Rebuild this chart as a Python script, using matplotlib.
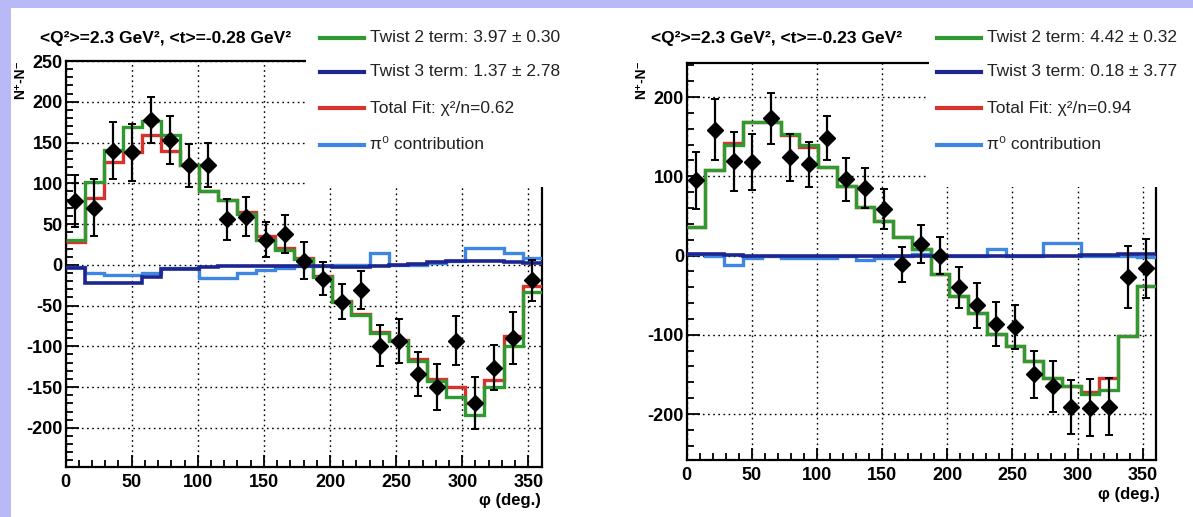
import numpy as np
import matplotlib
matplotlib.use("Agg")
import matplotlib.pyplot as plt
from matplotlib.patches import Rectangle
from matplotlib.lines import Line2D
from matplotlib.ticker import MultipleLocator, FixedLocator

plt.rcParams['font.family'] = ['Liberation Sans', 'DejaVu Sans']
plt.rcParams['axes.unicode_minus'] = False

# ---------------- data ----------------
n_bins = 25
phi_edges = np.linspace(0, 360, n_bins + 1)
phi_centers = 0.5 * (phi_edges[:-1] + phi_edges[1:])

# left panel  (<t> = -0.28 GeV^2)
data_L = [78, 70, 140, 138, 178, 153, 122, 123, 56, 59, 31, 38, 5, -17, -45,
          -31, -99, -93, -134, -150, -93, -170, -126, -90, -19]
err_L = [32, 35, 35, 35, 28, 29, 26, 27, 25, 24, 22, 23, 23, 20, 22, 23, 25,
         27, 27, 28, 30, 32, 28, 32, 25]
twist2_L = [30, 102, 141, 169, 177, 159, 122, 90, 80, 62, 30, 18, 7, -15, -45,
            -61, -84, -94, -118, -142, -162, -184, -150, -99, -33]
total_L = [28, 82, 126, 138, 159, 139, 122, 90, 80, 65, 35, 21, 8, -14, -44,
           -60, -82, -92, -116, -140, -150, -170, -141, -87, -26]
twist3_L = [-4, -22, -22, -22, -15, -5, -5, -3, -2, -2, -2, -1, -1, -2, -3,
            -3, -2, 0, 1, 3, 5, 5, 5, 4, 2]
pi0_L = [-3, -10, -12, -12, -10, -4, -4, -16, -16, -10, -6, -4, -2, -1, 0,
         0, 14, 0, 0, 2, 5, 21, 21, 14, 8]

# right panel (<t> = -0.23 GeV^2)
data_R = [95, 159, 119, 118, 173, 124, 115, 148, 96, 85, 59, -11, 15, 0, -40,
          -63, -86, -90, -150, -165, -191, -192, -191, -27, -16]
err_R = [36, 39, 37, 35, 32, 30, 28, 28, 27, 25, 25, 22, 24, 23, 26, 28, 28,
         28, 30, 32, 34, 36, 36, 39, 37]
twist2_R = [36, 108, 140, 168, 168, 154, 139, 112, 88, 61, 44, 23, 8, -23,
            -51, -72, -99, -114, -133, -154, -165, -175, -170, -101, -38]
total_R = [36, 108, 142, 168, 168, 152, 137, 112, 88, 61, 44, 23, 8, -23,
           -51, -72, -99, -114, -133, -154, -165, -172, -155, -101, -38]
twist3_R = [2, 2, 1, 0, 0, -1, -1, -1, -1, -1, 0, 0, 0, 0, 0, 0, 0, 0, 0, 0,
            0, 1, 1, 2, 2]
pi0_R = [2, 0, -12, -3, 0, -3, -3, -3, -1, -5, -3, 0, 2, 0, 0, 0, 8, 0, 0,
         16, 16, 0, 0, -1, -2]

titles = ["<Q²>=2.3 GeV², <t>=-0.28 GeV²", "<Q²>=2.3 GeV², <t>=-0.23 GeV²"]
legend_L = ["Twist 2 term: 3.97 ± 0.30", "Twist 3 term: 1.37 ± 2.78",
            "Total Fit: χ²/n=0.62", "π⁰ contribution"]
legend_R = ["Twist 2 term: 4.42 ± 0.32", "Twist 3 term: 0.18 ± 3.77",
            "Total Fit: χ²/n=0.94", "π⁰ contribution"]

# ---------------- style ----------------
W, H = 1193, 517
C_GREEN = '#2f9a2f'
C_NAVY = '#1c2590'
C_RED = '#d8322f'
C_LBLUE = '#3f86e0'
LAVENDER = '#b9b9f7'

fig = plt.figure(figsize=(W / 100, H / 100), dpi=100, facecolor=LAVENDER)


def fx(x):
    return x / W


def fy(y):
    return 1 - y / H


fig.add_artist(Rectangle((fx(11), 0), 1 - fx(11), fy(8), transform=fig.transFigure,
                         facecolor='white', edgecolor='none', zorder=-5))


def make_panel(rect, data, err, t2, tot, t3, pi0, ylim, yticks, yminor):
    ax = fig.add_axes(rect)
    ax.stairs(tot, phi_edges, baseline=None, color=C_RED, lw=2.4, zorder=3)
    ax.stairs(t2, phi_edges, baseline=None, color=C_GREEN, lw=2.4, zorder=4)
    ax.stairs(pi0, phi_edges, baseline=None, color=C_LBLUE, lw=2.4, zorder=3)
    ax.stairs(t3, phi_edges, baseline=None, color=C_NAVY, lw=2.6, zorder=4)
    ax.errorbar(phi_centers, data, yerr=err, fmt='D', color='black', ms=8,
                elinewidth=1.6, capsize=3, capthick=1.4, zorder=6)
    ax.set_xlim(0, 360)
    ax.set_ylim(*ylim)
    ax.xaxis.set_major_locator(FixedLocator([0, 50, 100, 150, 200, 250, 300, 350]))
    ax.xaxis.set_minor_locator(MultipleLocator(10))
    ax.yaxis.set_major_locator(FixedLocator(yticks))
    ax.yaxis.set_minor_locator(MultipleLocator(yminor))
    ax.grid(True, which='major', color='black', linestyle=(0, (1.2, 2.5)), lw=1.0)
    ax.tick_params(which='both', direction='in', labelsize=13, width=1.3)
    ax.tick_params(which='major', length=9)
    ax.tick_params(which='minor', length=5)
    ax.tick_params(axis='y', pad=2)
    ax.tick_params(axis='x', pad=5)
    for lab in ax.get_xticklabels() + ax.get_yticklabels():
        lab.set_fontweight('bold')
    for s in ax.spines.values():
        s.set_linewidth(1.6)
    return ax


axL = make_panel([fx(65.6), fy(467), fx(476), 406 / H], data_L, err_L, twist2_L,
                 total_L, twist3_L, pi0_L, (-248, 250),
                 [-200, -150, -100, -50, 0, 50, 100, 150, 200, 250], 10)
axR = make_panel([fx(686.7), fy(460), fx(469), 397 / H], data_R, err_R, twist2_R,
                 total_R, twist3_R, pi0_R, (-258, 243),
                 [-200, -100, 0, 100, 200], 20)


def legend_block(x0, box_x, box_w, texts, title, title_x, ylab_x, xlab_x, xlab_y):
    fig.add_artist(Rectangle((fx(box_x), fy(187)), fx(box_w), fy(10) - fy(187),
                             transform=fig.transFigure, facecolor='white',
                             edgecolor='none', zorder=5))
    rows = [38, 72, 108, 145]
    cols = [C_GREEN, C_NAVY, C_RED, C_LBLUE]
    for r, c, t in zip(rows, cols, texts):
        fig.add_artist(Line2D([fx(x0), fx(x0 + 44)], [fy(r), fy(r)],
                              transform=fig.transFigure, color=c, lw=3, zorder=6))
        fig.text(fx(x0 + 50), fy(r), t, fontsize=12.5, va='center', ha='left',
                 color='#222222', zorder=6)
    fig.text(fx(title_x), fy(38), title, fontsize=12.5, fontweight='bold',
             va='center', ha='left', zorder=6)
    fig.text(fx(ylab_x), fy(80), "N⁺-N⁻", fontsize=10, fontweight='bold',
             rotation=90, va='center', ha='center', zorder=6)
    fig.text(fx(xlab_x), fy(xlab_y), "φ (deg.)", fontsize=12, fontweight='bold',
             va='center', ha='right', zorder=6)


legend_block(320, 306, 290, legend_L, titles[0], 40, 20, 541, 500)
legend_block(937, 929, 270, legend_R, titles[1], 651, 641, 1160, 495)

fig.savefig("out.png", dpi=100, facecolor=fig.get_facecolor())
